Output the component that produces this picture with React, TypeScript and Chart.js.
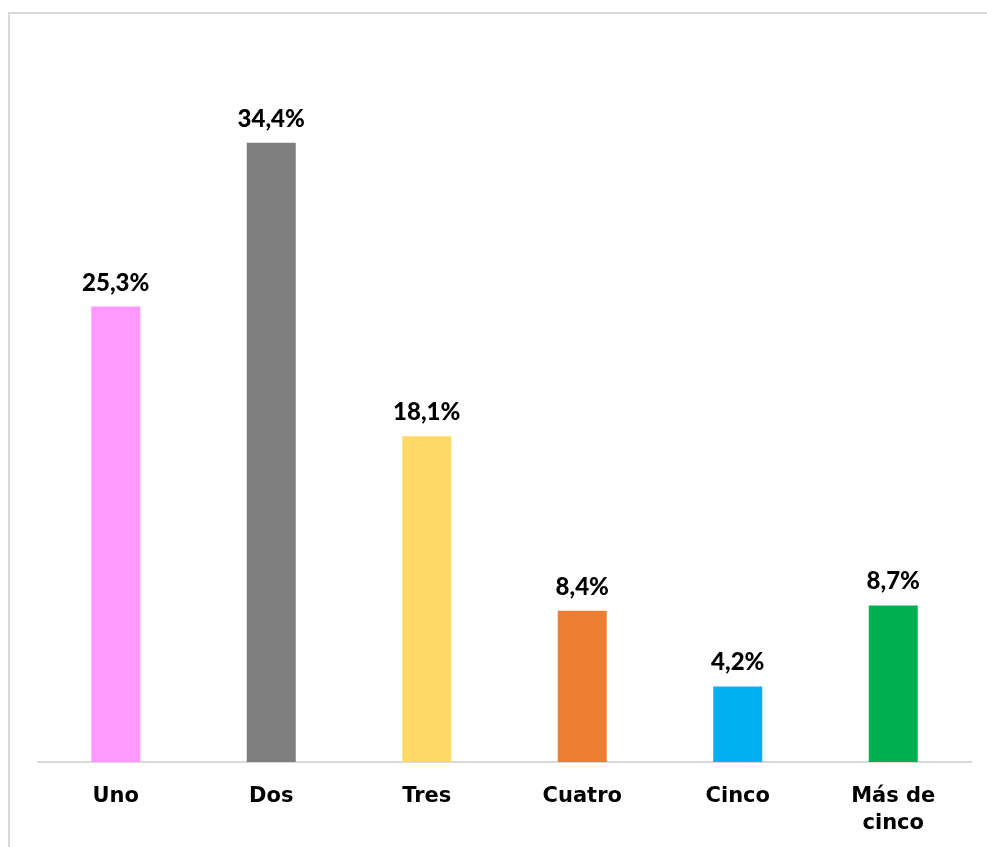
import React, { useEffect, useRef } from "react";
import { Chart, registerables } from "chart.js";

Chart.register(...registerables);

const categories: (string | string[])[] = ["Uno", "Dos", "Tres", "Cuatro", "Cinco", ["Más de", "cinco"]];
const values: number[] = [25.3, 34.4, 18.1, 8.4, 4.2, 8.7];
const barColors: string[] = ["#FF99FF", "#7F7F7F", "#FFD966", "#ED7D31", "#00B0F0", "#00B050"];

const fmt = (v: number) => v.toFixed(1).replace(".", ",") + "%";

const labelPlugin = {
  id: "valueLabels",
  afterDatasetsDraw(chart: any) {
    const ctx = chart.ctx;
    const meta = chart.getDatasetMeta(0);
    ctx.save();
    ctx.font = "900 24px Lato";
    ctx.fillStyle = "#000000";
    ctx.textAlign = "center";
    ctx.textBaseline = "alphabetic";
    meta.data.forEach((bar: any, i: number) => {
      ctx.fillText(fmt(values[i]), bar.x, bar.y - 16);
    });
    ctx.restore();
  },
};

export default function App() {
  const ref = useRef<HTMLCanvasElement>(null);
  useEffect(() => {
    if (!ref.current) return;
    const chart = new Chart(ref.current, {
      type: "bar",
      data: {
        labels: categories,
        datasets: [
          {
            data: values,
            backgroundColor: barColors,
            barPercentage: 0.315,
            categoryPercentage: 1,
          },
        ],
      },
      options: {
        animation: false,
        responsive: false,
        maintainAspectRatio: false,
        layout: { padding: { left: 38, right: 16, top: 42, bottom: 0 } },
        plugins: { legend: { display: false }, tooltip: { enabled: false } },
        scales: {
          y: { display: false, min: 0, max: 40 },
          x: {
            afterFit: (axis: any) => {
              axis.height = 85;
            },
            grid: { display: false, drawTicks: false },
            border: { color: "#d9d9d9", width: 2 },
            ticks: {
              color: "#000000",
              font: { family: "DejaVu Sans", weight: "bold", size: 21, lineHeight: 1.3 },
              padding: 21,
              maxRotation: 0,
              autoSkip: false,
            },
          },
        },
      },
      plugins: [labelPlugin],
    });
    return () => chart.destroy();
  }, []);

  return (
    <div style={{ position: "fixed", left: 0, top: 0, width: 987, height: 847, overflow: "hidden", background: "#ffffff" }}>
      <div
        style={{
          position: "absolute",
          left: 8,
          top: 12,
          width: 1000,
          height: 900,
          borderTop: "2px solid #d9d9d9",
          borderLeft: "2px solid #d9d9d9",
        }}
      />
      <canvas ref={ref} width={987} height={847} style={{ position: "absolute", left: 0, top: 0 }} />
    </div>
  );
}
